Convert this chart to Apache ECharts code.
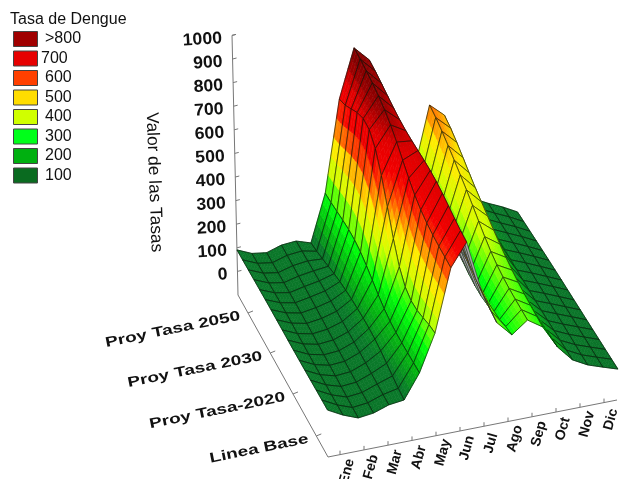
<!DOCTYPE html>
<html><head><meta charset="utf-8">
<style>html,body{margin:0;padding:0;background:#fff}#c{width:621px;height:479px;filter:blur(0.45px)}</style>
<script src="https://cdn.jsdelivr.net/npm/echarts@6/dist/echarts.min.js"></script>
</head><body><div id="c"></div>
<script>
// ---- data ----
var months = ['Ene','Feb','Mar','Abr','May','Jun','Jul','Ago','Sep','Oct','Nov','Dic'];
var rowLabels = ['Proy Tasa 2050','Proy Tasa 2030','Proy Tasa-2020','Linea Base'];
var zTicks = [0,100,200,300,400,500,600,700,800,900,1000];
var legendLabels = ['>800','700','600','500','400','300','200','100'];
var legendColors = ['#a00000','#e60000','#ff4000','#ffdd00','#d0ff00','#00ff1a','#00b010','#0a6b20'];
// surface samples, one value per mesh column, from left wall to right wall
var proyTasa2050 = [91,65,57,78,84,65,264,652,858,796,600,350,300,560,506,280,130,99,72,40];
var proyTasa2030 = [95,70,58,70,85,115,275,725,800,750,550,350,270,465,400,230,120,95,68,40];
var proyTasa2020 = [95,65,50,55,80,125,190,330,640,745,560,390,220,345,310,170,110,85,60,35];
var lineaBase    = [99,65,40,48,70,78,180,336,600,696,476,330,265,315,273,175,108,74,52,31];
var surfaceRows = [proyTasa2050,proyTasa2030,proyTasa2020,lineaBase];

// ---- view set-up ----
var NU = proyTasa2050.length-1, NV = 16;
var C = {B:[238,295],F:[328,457],R:[617,400],K:[517,245]};
var ZS = 0.236, TILT = 1.42e-4;
function project(u,v,z){ // u: 0 left..1 right, v: 0 front..1 back
  var fx = (1-u)*(1-v)*C.F[0]+u*(1-v)*C.R[0]+(1-u)*v*C.B[0]+u*v*C.K[0];
  var fy = (1-u)*(1-v)*C.F[1]+u*(1-v)*C.R[1]+(1-u)*v*C.B[1]+u*v*C.K[1];
  var h=(z+100)*ZS;
  return [fx+(fx-400)*TILT*h, fy-h];
}
// mesh rows between the four series: smooth curve, drawing only
function meshZ(i,j){
  var t=j/NV*3, k=Math.min(2,Math.floor(t)), f=t-k;
  var g=function(n){return surfaceRows[Math.max(0,Math.min(3,n))][i];};
  var a=g(k-1),b=g(k),c=g(k+1),d=g(k+2);
  return 0.5*(2*b+(c-a)*f+(2*a-5*b+4*c-d)*f*f+(3*b-a-3*c+d)*f*f*f);
}
var stops=[[0,[10,112,40]],[100,[10,122,42]],[170,[6,180,18]],[260,[0,255,10]],[370,[205,255,0]],[470,[255,235,0]],[570,[255,85,0]],[650,[245,0,0]],[735,[225,0,0]],[800,[150,0,0]],[860,[120,0,0]]];
function colorOf(z){
  if(z<=stops[0][0]) return 'rgb('+stops[0][1].join(',')+')';
  for(var s=1;s<stops.length;s++){ if(z<=stops[s][0]){
    var p=stops[s-1],q=stops[s],f=(z-p[0])/(q[0]-p[0]);
    return 'rgb('+[0,1,2].map(function(n){return Math.round(p[1][n]+(q[1][n]-p[1][n])*f);}).join(',')+')';
  }}
  return 'rgb('+stops[stops.length-1][1].join(',')+')';
}
var cells=[];
for(var j0=0;j0<NV;j0++){ for(var i0=NU-1;i0>=0;i0--){ cells.push([i0,j0]); } }

function renderCell(params,api){
  var i=api.value(0), j=api.value(1), order=params.dataIndex*30+10;
  var z00=meshZ(i,j),z10=meshZ(i+1,j),z01=meshZ(i,j+1),z11=meshZ(i+1,j+1);
  var P=function(a,b){ // a,b in 0..1 inside the cell
    var z=(1-a)*(1-b)*z00+a*(1-b)*z10+(1-a)*b*z01+a*b*z11;
    return {z:z,p:api.coord(project((i+a)/NU,1-(j+b)/NV,z))};
  };
  var c0=P(0,0).p,c1=P(1,0).p,c2=P(1,1).p,c3=P(0,1).p;
  var cross=(c1[0]-c0[0])*(c3[1]-c0[1])-(c1[1]-c0[1])*(c3[0]-c0[0]);
  var kids=[],n=0;
  if(cross<0){
    kids.push({type:'polygon',z2:order,shape:{points:[c0,c1,c2,c3]},style:{fill:'#a8a8a8',stroke:'rgba(40,40,40,.8)',lineWidth:.7}});
  } else {
    var su=5,sv=3;
    for(var a=0;a<su;a++)for(var b=0;b<sv;b++){
      var q0=P(a/su,b/sv),q1=P((a+1)/su,b/sv),q2=P((a+1)/su,(b+1)/sv),q3=P(a/su,(b+1)/sv);
      var col=colorOf((q0.z+q1.z+q2.z+q3.z)/4);
      kids.push({type:'polygon',z2:order+(n++),shape:{points:[q0.p,q1.p,q2.p,q3.p]},style:{fill:col,stroke:col,lineWidth:.6}});
    }
    kids.push({type:'polygon',z2:order+29,shape:{points:[c0,c1,c2,c3]},style:{fill:'none',stroke:'rgba(10,20,10,.8)',lineWidth:.8}});
  }
  return {type:'group',children:kids};
}

var GREY='#777';
var LINE={stroke:GREY,lineWidth:1,fill:'none'};
function seg(api,a,b){return {type:'line',shape:{x1:a[0],y1:a[1],x2:b[0],y2:b[1]},style:LINE};}
function txt(pt,str,font,rot,align,sx){
  return {type:'text',x:pt[0],y:pt[1],rotation:rot,scaleX:sx||1,
    style:{text:str,font:font,fill:'#111',align:align,verticalAlign:'middle'}};
}
function renderAxes(params,api){
  var k=[];
  var B=api.coord(project(0,1,-100)),T=api.coord(project(0,1,1000)),F=api.coord(project(0,0,-100)),R=api.coord(project(1,0,-100));
  k.push(seg(api,T,B),seg(api,B,F),seg(api,F,R),seg(api,T,[T[0]+4,T[1]-1]));
  zTicks.forEach(function(z){
    var p=api.coord(project(0,1,z));
    k.push(seg(api,p,[p[0]+4,p[1]-1]));
    k.push(txt([p[0]-10,p[1]+3],String(z),'bold 17px "Liberation Sans"',0.06,'right',1.04));
  });
  var rowTickV=[0.889,0.642,0.389,0.13];
  rowLabels.forEach(function(s,n){
    var p=api.coord(project(0,rowTickV[n],-100));
    k.push(seg(api,p,[p[0]+5,p[1]-2]));
    k.push(txt([p[0]-8,p[1]+3],s,'bold 14px "Liberation Sans"',0.2,'right',1.36));
  });
  months.forEach(function(s,m){
    var p=api.coord(project((12+24*m)/289,0,-100));
    k.push(seg(api,p,[p[0],p[1]-4]));
    k.push(txt([p[0]+7,p[1]+17],s,'bold 14px "Liberation Sans"',1.3,'center',1));
  });
  return {type:'group',children:k};
}

var legendEls=[{type:'text',left:10,top:12,style:{text:'Tasa de Dengue',font:'16px "Liberation Sans"',fill:'#111'}}];
legendLabels.forEach(function(s,n){
  var top=31+n*19.5;
  legendEls.push({type:'rect',left:13,top:top,shape:{width:24,height:15},style:{fill:legendColors[n],stroke:'#444',lineWidth:1}});
  legendEls.push({type:'text',left:n==1?41:45,top:top,style:{text:s,font:'16px "Liberation Sans"',fill:'#111'}});
});
legendEls.push({type:'text',x:160,y:112,rotation:-1.535,style:{text:'Valor de las Tasas',font:'17.3px "Liberation Sans"',fill:'#111'}});

var chart=echarts.init(document.getElementById('c'),null,{renderer:'canvas'});
chart.setOption({
  animation:false,
  backgroundColor:'#fff',
  grid:{left:0,right:0,top:0,bottom:0},
  xAxis:{type:'value',min:0,max:621,show:false},
  yAxis:{type:'value',min:0,max:479,inverse:true,show:false},
  graphic:legendEls,
  series:[
    {type:'custom',coordinateSystem:'cartesian2d',renderItem:renderAxes,data:[[0,0]],silent:true,clip:false,z:1,encode:{x:0,y:1}},
    {type:'custom',coordinateSystem:'cartesian2d',renderItem:renderCell,data:cells,silent:true,clip:false,z:2,progressive:0,encode:{x:0,y:1}}
  ]
});
</script></body></html>
